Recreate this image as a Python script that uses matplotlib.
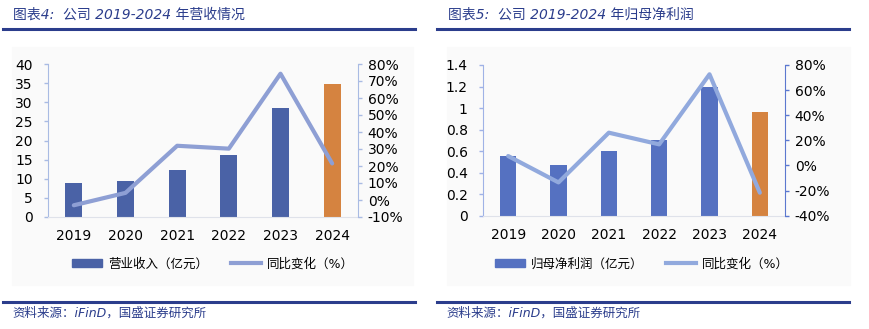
import numpy as np
import matplotlib.pyplot as plt
from matplotlib.patches import Rectangle, Patch
from matplotlib.lines import Line2D
from matplotlib.ticker import FuncFormatter

plt.rcParams['font.family'] = ['DejaVu Sans', 'Noto Sans CJK SC']

# === данные ===
years = ['2019', '2020', '2021', '2022', '2023', '2024']
revenue = [8.8, 9.3, 12.4, 16.3, 28.4, 34.8]          # 营业收入（亿元）
revenue_yoy = [-3.1, 4.2, 31.9, 30.2, 74.3, 21.5]     # 同比变化（%）
profit = [0.55, 0.47, 0.60, 0.70, 1.20, 0.96]         # 归母净利润（亿元）
profit_yoy = [7.5, -13.5, 26.1, 16.8, 72.6, -21.7]    # 同比变化（%）

W, H = 870, 329
fig = plt.figure(figsize=(W / 100, H / 100), dpi=100)

def fx(px):
    return px / W

def fy(py):
    return 1 - py / H

title_col = '#2b3d8c'
orange = '#d58340'

# светлые подложки
for x0, x1 in [(12, 413), (447, 850)]:
    fig.patches.append(Rectangle((fx(x0), fy(285)), fx(x1 - x0), (285 - 47) / H,
                                 transform=fig.transFigure, color='#fafafa', zorder=-5))

# заголовки и линии
fig.text(fx(13), fy(15), '图表4:  公司 2019-2024 年营收情况', fontsize=10,
         color=title_col, va='center', style='italic')
fig.text(fx(448), fy(15), '图表5:  公司 2019-2024 年归母净利润', fontsize=10,
         color=title_col, va='center', style='italic')
for x0, x1 in [(3, 415), (437, 849)]:
    fig.add_artist(Line2D([fx(x0), fx(x1)], [fy(29), fy(29)], color=title_col, lw=2.2))
    fig.add_artist(Line2D([fx(x0), fx(x1)], [fy(302), fy(302)], color=title_col, lw=2.2))
fig.text(fx(12), fy(313), '资料来源：iFinD，国盛证券研究所', fontsize=9,
         color=title_col, va='center', style='italic')
fig.text(fx(446), fy(313), '资料来源：iFinD，国盛证券研究所', fontsize=9,
         color=title_col, va='center', style='italic')

x = np.arange(len(years))
pct = FuncFormatter(lambda v, p: f'{v:.0f}%')

def make_panel(rect, bars, bar_col, yoy, line_col, ylim, yticks, ylim2, yticks2,
               spine_col, spine2_col, ylabels=None):
    ax = fig.add_axes(rect)
    ax.set_facecolor('none')
    cols = [bar_col] * (len(years) - 1) + [orange]
    ax.bar(x, bars, width=0.33, color=cols, zorder=2)
    ax.set_xlim(-0.5, 5.5)
    ax.set_ylim(*ylim)
    ax.set_yticks(yticks)
    if ylabels is not None:
        ax.set_yticklabels(ylabels)
    ax.set_xticks(x)
    ax.set_xticklabels(years)
    ax.tick_params(axis='x', length=0, pad=9, labelsize=10)
    ax.tick_params(axis='y', length=3, width=1, color=spine_col, pad=8, labelsize=10)
    for s in ['top', 'right']:
        ax.spines[s].set_visible(False)
    ax.spines['left'].set_color(spine_col)
    ax.spines['bottom'].set_color('#dfe2ea')
    ax2 = ax.twinx()
    ax2.plot(x, yoy, color=line_col, lw=3, solid_capstyle='round', zorder=3)
    ax2.set_ylim(*ylim2)
    ax2.set_yticks(yticks2)
    ax2.yaxis.set_major_formatter(pct)
    ax2.tick_params(axis='y', length=3, width=1, color=spine2_col, pad=4, labelsize=10)
    for s in ['top', 'left', 'bottom']:
        ax2.spines[s].set_visible(False)
    ax2.spines['right'].set_color(spine2_col)
    return ax, ax2

make_panel([fx(48), fy(217), fx(310), 153 / H], revenue, '#4a62a6', revenue_yoy,
           '#8e9fd4', (0, 40), range(0, 41, 5), (-10, 80), range(-10, 81, 10),
           '#a9bbe3', '#a9bbe3')

make_panel([fx(483), fy(215.7), fx(302), 150.7 / H], profit, '#5571c1', profit_yoy,
           '#91a9dd', (0, 1.4), np.arange(0, 1.41, 0.2), (-40, 80), range(-40, 81, 20),
           '#9fb2e6', '#5b78cf',
           ylabels=['0', '0.2', '0.4', '0.6', '0.8', '1', '1.2', '1.4'])

# легенды
leg_kw = dict(ncol=2, frameon=False, fontsize=9, handlelength=2.4, handleheight=0.6,
              handletextpad=0.5, columnspacing=1.8, loc='center')
fig.legend([Patch(color='#4a62a6'), Line2D([], [], color='#8e9fd4', lw=3)],
           ['营业收入（亿元）', '同比变化（%）'], bbox_to_anchor=(fx(213), fy(264)), **leg_kw)
fig.legend([Patch(color='#5571c1'), Line2D([], [], color='#91a9dd', lw=3)],
           ['归母净利润（亿元）', '同比变化（%）'], bbox_to_anchor=(fx(642), fy(264)), **leg_kw)

fig.savefig('out.png', dpi=100)
